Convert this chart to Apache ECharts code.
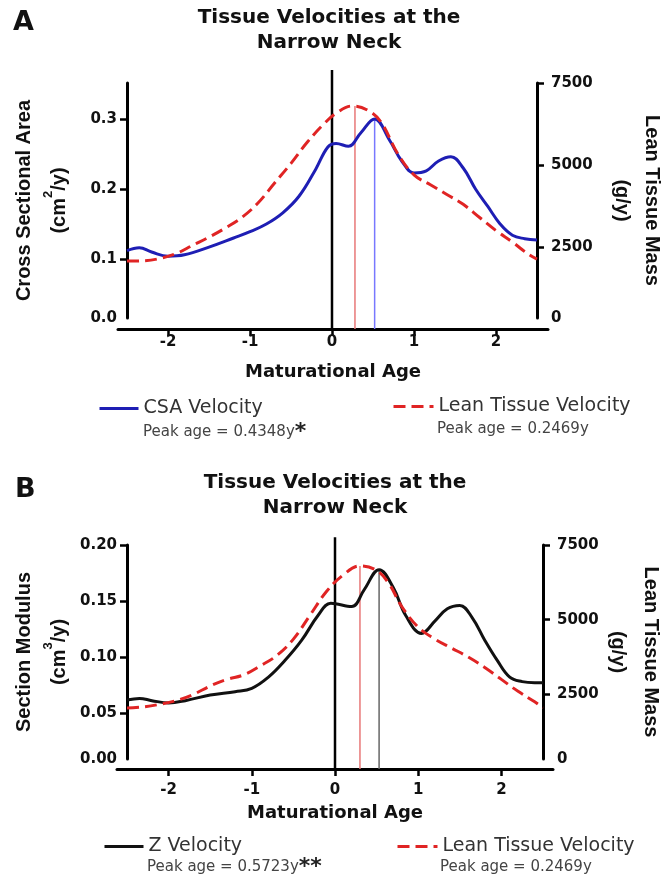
<!DOCTYPE html>
<html><head><meta charset="utf-8">
<script src="https://cdn.jsdelivr.net/npm/echarts@6/dist/echarts.min.js"></script>
<style>html,body{margin:0;padding:0;background:#fff}#c{width:661px;height:878px}</style>
</head><body><div id="c"></div>
<script>
// ---------- data ----------
const ticksX = [-2, -1, 0, 1, 2];
const ticksLeftA = [0.1, 0.2, 0.3];
const ticksLeftB = [0.05, 0.10, 0.15, 0.20];
const ticksRight = [2500, 5000, 7500];

// Panel A : CSA velocity (left axis, cm^2/y)
const csaAgeA = [-2.5,-2.35,-2.2,-2.0,-1.8,-1.5,-1.2,-1.0,-0.8,-0.6,-0.4,-0.2,-0.05,0.05,0.2,0.35,0.52,0.7,0.85,1.0,1.15,1.3,1.45,1.6,1.75,1.9,2.05,2.2,2.35,2.5];
const csaVelA = [0.112,0.116,0.110,0.104,0.106,0.117,0.130,0.139,0.150,0.166,0.190,0.228,0.260,0.265,0.261,0.280,0.300,0.270,0.240,0.223,0.226,0.240,0.246,0.230,0.200,0.175,0.150,0.134,0.129,0.127];
// Panel A : lean tissue velocity (right axis, g/y)
const leanAgeA = [-2.5,-2.3,-2.1,-1.9,-1.7,-1.5,-1.3,-1.1,-0.9,-0.7,-0.5,-0.3,-0.1,0.05,0.25,0.45,0.6,0.8,1.0,1.2,1.4,1.6,1.8,2.0,2.2,2.4,2.5];
const leanVelA = [2070,2080,2150,2300,2550,2800,3080,3400,3850,4450,5050,5700,6250,6580,6800,6650,6300,5350,4700,4400,4100,3800,3400,3000,2650,2270,2130];

// Panel B : Z velocity (left axis, cm^3/y)
const zAgeB = [-2.5,-2.35,-2.2,-2.0,-1.8,-1.5,-1.2,-1.0,-0.8,-0.6,-0.4,-0.2,-0.05,0.2,0.35,0.53,0.7,0.85,1.04,1.2,1.35,1.5,1.65,1.8,1.95,2.1,2.25,2.4,2.5];
const zVelB = [0.0616,0.063,0.061,0.059,0.061,0.066,0.069,0.072,0.082,0.097,0.115,0.1375,0.148,0.145,0.160,0.178,0.162,0.137,0.121,0.132,0.143,0.146,0.135,0.115,0.097,0.082,0.078,0.077,0.077];
// Panel B : lean tissue velocity (right axis, g/y)
const leanAgeB = [-2.5,-2.3,-2.1,-1.9,-1.7,-1.5,-1.3,-1.1,-0.9,-0.7,-0.5,-0.3,-0.1,0.1,0.3,0.5,0.65,0.8,1.0,1.2,1.4,1.6,1.8,2.0,2.2,2.4,2.5];
const leanVelB = [2040,2080,2170,2300,2500,2780,3000,3150,3450,3800,4350,5150,5950,6500,6800,6650,6200,5450,4750,4350,4050,3750,3400,3000,2600,2250,2050];

// peak marker lines [age, value at top]
const leanPeakA = [0.28, 6800];
const csaPeakA = [0.52, 0.300];
const leanPeakB = [0.30, 6800];
const zPeakB = [0.53, 0.178];
const zeroLineTopA = 0.37;
const zeroLineTopB = 0.207;

const peakTexts = ['Peak age = 0.4348y', 'Peak age = 0.2469y', 'Peak age = 0.5723y', 'Peak age = 0.2469y'];

// ---------- helpers ----------
const zip = (xs, ys) => xs.map((x, i) => [x, ys[i]]);
const FONT_H = 'DejaVu Sans';
const FONT_V = 'Liberation Sans';
const INK = '#111';

function xAxisCfg(grid, min, max, offset, margin, nameGap) {
  return {
    type: 'value', gridIndex: grid, min: min, max: max, offset: offset,
    axisLine: { onZero: false, lineStyle: { color: '#000', width: 3 } },
    axisTick: { customValues: ticksX, length: 7, lineStyle: { color: '#000', width: 2.5 } },
    axisLabel: { customValues: ticksX, margin: margin, fontFamily: FONT_H, fontWeight: 'bold', fontSize: 15, color: INK },
    splitLine: { show: false },
    name: 'Maturational Age', nameLocation: 'middle', nameGap: nameGap, nameMoveOverlap: false,
    nameTextStyle: { fontFamily: FONT_H, fontWeight: 'bold', fontSize: 18, color: INK }
  };
}
function yAxisCfg(o) {
  return {
    type: 'value', gridIndex: o.grid, position: o.pos, offset: o.offset, min: o.min, max: o.max,
    axisLine: { show: true, onZero: false, lineStyle: { color: '#000', width: 3 } },
    axisTick: { show: true, customValues: o.ticks, length: 7, lineStyle: { color: '#000', width: 2.5 } },
    axisLabel: { customValues: [o.min].concat(o.ticks), formatter: o.fmt, margin: o.margin,
      fontFamily: FONT_H, fontWeight: 'bold', fontSize: 15, color: INK },
    splitLine: { show: false },
    name: o.name, nameLocation: 'middle', nameGap: o.nameGap, nameRotate: o.rot, nameMoveOverlap: false,
    nameTextStyle: {
      fontFamily: FONT_V, fontWeight: 'bold', fontSize: 20, color: INK, lineHeight: o.lh,
      rich: {
        n: { fontFamily: FONT_V, fontWeight: 'bold', fontSize: 20, color: INK, lineHeight: o.lh },
        sup: { fontFamily: FONT_V, fontWeight: 'bold', fontSize: 13, color: INK, lineHeight: o.lh, padding: [0, 0, 22, 0] }
      }
    }
  };
}
function vline(xi, yi, age, top, color, width, z) {
  return { type: 'line', xAxisIndex: xi, yAxisIndex: yi, data: [[age, 0], [age, top]], clip: false,
    symbol: 'none', silent: true, z: z, lineStyle: { color: color, width: width }, animation: false };
}
function curve(name, xi, yi, xs, ys, color, dashed) {
  return { type: 'line', name: name, xAxisIndex: xi, yAxisIndex: yi, data: zip(xs, ys), smooth: 0.4,
    symbol: 'none', clip: false, z: 5, color: color, itemStyle: { color: color, opacity: 0 },
    lineStyle: { color: color, width: 3, type: dashed ? [12, 6] : 'solid' }, animation: false };
}
function legendCfg(name, left, top, w) {
  return { data: [name], left: left, top: top, padding: 0, itemWidth: w, itemHeight: 14, selectedMode: false,
    lineStyle: { width: 3 }, itemStyle: { opacity: 0 },
    textStyle: { fontFamily: FONT_H, fontSize: 19, color: '#333' } };
}
function peakTitle(text, stars, left, top) {
  return { text: '{p|' + text + '}' + (stars ? '{s|' + stars + '}' : ''), left: left, top: top, padding: 0,
    textStyle: { fontWeight: 'normal', rich: {
      p: { fontFamily: FONT_H, fontSize: 15, fontWeight: 'normal', color: '#444', lineHeight: 18 },
      s: { fontFamily: FONT_H, fontSize: 22, fontWeight: 'bold', color: '#222', lineHeight: 18 }
    } } };
}

// left min values put the axis line end slightly above zero, as in the figure
const leftMinA = 0.0157, leftMaxA = 0.3514, rightMin = 335, rightMax = 7500;
const leftMinB = 0.0089, leftMaxB = 0.20;

const chart = echarts.init(document.getElementById('c'), null, { renderer: 'canvas' });
chart.setOption({
  animation: false,
  backgroundColor: '#fff',
  title: [
    { text: 'A', left: 13, top: 9, padding: 0, textStyle: { fontFamily: FONT_H, fontWeight: 'bold', fontSize: 27, color: INK } },
    { text: 'B', left: 15, top: 476, padding: 0, textStyle: { fontFamily: FONT_H, fontWeight: 'bold', fontSize: 27, color: INK } },
    { text: 'Tissue Velocities at the\nNarrow Neck', left: 329, textAlign: 'center', top: 5, padding: 0,
      textStyle: { fontFamily: FONT_H, fontWeight: 'bold', fontSize: 20, lineHeight: 25, color: INK } },
    { text: 'Tissue Velocities at the\nNarrow Neck', left: 335, textAlign: 'center', top: 470, padding: 0,
      textStyle: { fontFamily: FONT_H, fontWeight: 'bold', fontSize: 20, lineHeight: 25, color: INK } },
    peakTitle(peakTexts[0], '*', 143, 423),
    peakTitle(peakTexts[1], '', 437, 420),
    peakTitle(peakTexts[2], '**', 147, 858),
    peakTitle(peakTexts[3], '', 440, 858)
  ],
  legend: [
    legendCfg('CSA Velocity', 98, 399, 39),
    legendCfg('Lean Tissue Velocity', 392, 397, 40),
    legendCfg('Z Velocity', 103, 837, 39),
    legendCfg('Lean Tissue Velocity', 396, 837, 40)
  ],
  grid: [
    { left: 118, right: 113, top: 83, bottom: 560, outerBoundsMode: 'none', containLabel: false },
    { left: 117, right: 108, top: 545, bottom: 119, outerBoundsMode: 'none', containLabel: false }
  ],
  xAxis: [
    xAxisCfg(0, -2.6098, 2.6341, 11, 6, 34),
    xAxisCfg(1, -2.6202, 2.6202, 10, 14, 35)
  ],
  yAxis: [
    yAxisCfg({ grid: 0, pos: 'left', offset: -9, min: leftMinA, max: leftMaxA, ticks: ticksLeftA,
      fmt: v => v < 0.05 ? '0.0' : v.toFixed(1), margin: 10, nameGap: 50, rot: 90, lh: 35,
      name: '{n|Cross Sectional Area}\n{n|(cm}{sup|2}{n|/y)}' }),
    yAxisCfg({ grid: 0, pos: 'right', offset: -11, min: rightMin, max: rightMax, ticks: ticksRight,
      fmt: v => v < 1000 ? '0' : String(v), margin: 14, nameGap: 70, rot: -90, lh: 30,
      name: '{n|Lean Tissue Mass}\n{n|(g/y)}' }),
    yAxisCfg({ grid: 1, pos: 'left', offset: -10, min: leftMinB, max: leftMaxB, ticks: ticksLeftB,
      fmt: v => v < 0.03 ? '0.00' : v.toFixed(2), margin: 10, nameGap: 50, rot: 90, lh: 35,
      name: '{n|Section Modulus}\n{n|(cm}{sup|3}{n|/y)}' }),
    yAxisCfg({ grid: 1, pos: 'right', offset: -10, min: rightMin, max: rightMax, ticks: ticksRight,
      fmt: v => v < 1000 ? '0' : String(v), margin: 14, nameGap: 58, rot: -90, lh: 33,
      name: '{n|Lean Tissue Mass}\n{n|(g/y)}' })
  ],
  series: [
    vline(0, 0, 0, zeroLineTopA, '#000', 2.5, 2),
    vline(0, 1, leanPeakA[0], leanPeakA[1], '#e87878', 1.5, 2),
    vline(0, 0, csaPeakA[0], csaPeakA[1], '#7878ff', 1.5, 2),
    curve('CSA Velocity', 0, 0, csaAgeA, csaVelA, '#1e1eb4', false),
    curve('Lean Tissue Velocity', 0, 1, leanAgeA, leanVelA, '#e02424', true),

    vline(1, 2, 0, zeroLineTopB, '#000', 2.5, 2),
    vline(1, 3, leanPeakB[0], leanPeakB[1], '#e87878', 1.5, 2),
    vline(1, 2, zPeakB[0], zPeakB[1], '#666', 1.5, 2),
    curve('Z Velocity', 1, 2, zAgeB, zVelB, '#111', false),
    curve('Lean Tissue Velocity', 1, 3, leanAgeB, leanVelB, '#e02424', true)
  ]
});
</script></body></html>
